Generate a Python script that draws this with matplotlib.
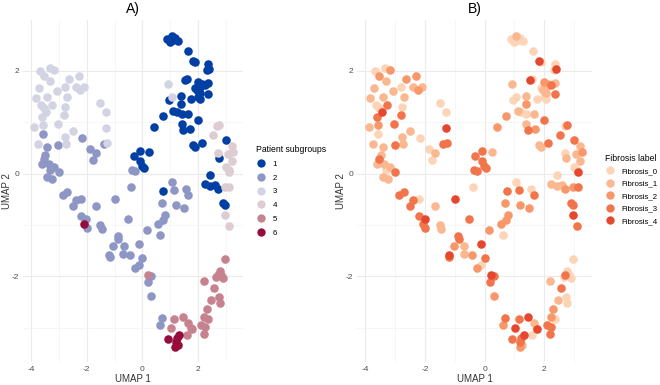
import numpy as np
import matplotlib
matplotlib.use("Agg")
import matplotlib.pyplot as plt
from matplotlib.lines import Line2D

plt.rcParams['font.family'] = ['Liberation Sans', 'DejaVu Sans']
plt.rcParams['axes.unicode_minus'] = False

# UMAP coordinates, patient subgroup (1-6) and fibrosis label (0-4) per patient
umap1 = [0.87, 1.05, 1.17, 0.99, 1.29, 1.11, 1.62, 1.82, 1.88, 2.35, 2.39, 2.33, 0.93, 1.52, 1.58,
         2.00, 2.12, 2.06, 2.24, 2.36, 1.88, 1.94, 2.06, 2.00, 2.36, 1.38, 1.05, 1.74, 0.96, 2.06,
         1.37, 1.11, 1.23, 1.40, 1.64, 0.73, 1.98, 1.40, 0.43, 1.46, 1.70, 2.69, 2.75, 2.54,
         -3.69, -3.54, -3.33, -3.18, -3.30, -3.71, -3.83, -3.42, -3.08, -2.79, -2.64, -2.70, -2.29,
         -2.40, -2.23, -2.11, -3.65, -3.54, -3.26, -3.45, -3.62, -2.76, -2.82, -3.04, -3.89, -3.57,
         -1.51, -1.30, -1.31, -2.76, -2.50, -3.57,
         -3.74, -2.73, -2.17, -1.27, -1.39, -3.42, -3.02, -1.87, -1.65, -1.77, -3.48, -3.54, -3.62,
         -3.36, -3.18, -3.30, -3.00, -3.42, -3.24, -0.32, -0.08, 0.25, -0.08, -0.02, 0.06, -0.36,
         -0.26, -0.40, 1.82, 1.88, 2.14, 2.98, 3.21, 3.25, 2.71, 3.07, 3.21, 3.01, 3.10, 3.12, 2.95,
         3.12, 2.74, 2.42, 2.24, 2.42, 2.60, 2.71, 2.89, 2.95, 2.95, 3.10, 0.75, 1.05, 1.14, 1.56,
         1.64, 0.69, 1.19, 1.50, 0.79, 0.73, 0.55, 0.63, 0.15, -0.12, -0.52, -1.00, -1.65, -2.70,
         -2.86, -2.40, -2.19, -2.49, -2.19, -2.01, -2.08, -1.99, -1.51, -1.45, -0.88, -0.86, -1.04,
         -0.68,
         -1.18, -1.21, -0.70, -0.44, 0.00, -0.26, -0.14, 0.21, 0.31, 0.19, 0.31, 0.69, 0.63, 1.14,
         1.46, 1.02, 1.64, 1.73, 1.76, 1.58, 0.93, 1.23, 1.31, 1.19, 1.26, 1.17, 2.95, 2.77, 2.83,
         2.65, 2.89, 2.71, 2.20, 2.57, 2.74, 2.77, 2.45, 2.30, 2.21, 2.36, 2.10, 2.24, 2.20]
umap2 = [2.63, 2.68, 2.64, 2.56, 2.58, 2.60, 2.39, 2.19, 2.18, 2.14, 2.03, 2.01, 1.75, 1.83, 1.85,
         1.79, 1.75, 1.69, 1.72, 1.77, 1.67, 1.62, 1.56, 1.49, 1.54, 1.51, 1.49, 1.45, 1.43, 1.45,
         1.35, 1.21, 1.19, 1.15, 1.16, 1.12, 1.04, 0.96, 0.91, 0.85, 0.86, 0.93, 0.94, 0.75,
         1.99, 1.90, 2.05, 2.01, 1.80, 1.67, 1.47, 1.49, 1.61, 1.69, 1.84, 1.49, 1.90,
         1.69, 1.62, 1.69, 1.33, 1.27, 1.33, 1.20, 1.10, 1.30, 1.14, 0.97, 0.91, 0.94,
         1.38, 1.20, 0.89, 0.71, 0.82, 0.76,
         0.58, 0.57, 0.69, 0.60, 0.58, 0.52, 0.55, 0.47, 0.40, 0.27, 0.36, 0.28, 0.19,
         0.18, 0.13, 0.06, 0.02, -0.06, -0.11, 0.34, 0.44, 0.41, 0.24, 0.15, 0.11, 0.06,
         0.05, -0.26, 0.55, 0.52, 0.60, 0.66, 0.54, 0.42, 0.39, 0.38, 0.24, 0.13, 0.06, 0.02, -0.26,
         -0.27, 0.31, -0.02, -0.21, -0.24, -0.23, -0.31, -0.58, -0.62, -0.81, -1.02, -0.34, -0.16, -0.32, -0.31,
         -0.41, -0.58, -0.62, -0.68, -0.81, -0.91, -0.99, -1.19, -1.10, -1.38, -0.89, -0.50, -0.63, -0.36,
         -0.41, -0.52, -0.50, -0.64, -0.82, -0.88, -0.99, -1.07, -1.00, -1.09, -1.22, -1.28, -1.42,
         -1.41,
         -1.62, -1.58, -1.56, -1.59, -1.64, -1.85, -1.79, -1.97, -1.99, -2.12, -2.39, -2.81, -2.95, -2.84,
         -2.79, -3.01, -2.91, -3.01, -3.02, -3.14, -3.23, -3.20, -3.15, -3.29, -3.34, -3.38, -1.66, -1.90, -1.97,
         -2.01, -2.03, -1.98, -2.10, -2.23, -2.40, -2.53, -2.47, -2.63, -2.79, -2.84, -2.95, -2.99, -3.12]
subgroup = [1, 1, 1, 1, 1, 1, 1, 1, 1, 1, 1, 1, 3, 1, 1,
            1, 1, 1, 1, 1, 1, 1, 1, 1, 1, 1, 3, 1, 1, 1,
            1, 1, 1, 1, 1, 1, 1, 1, 1, 1, 1, 4, 4, 4,
            3, 3, 3, 3, 3, 3, 3, 3, 3, 3, 3, 3, 3,
            3, 3, 3, 3, 3, 3, 3, 3, 3, 3, 3, 3, 3,
            3, 3, 3, 3, 3, 2,
            3, 3, 2, 3, 2, 2, 2, 2, 2, 2, 2, 2, 2,
            2, 2, 2, 2, 2, 2, 1, 1, 1, 1, 1, 1, 2,
            2, 2, 1, 1, 1, 1, 4, 4, 4, 4, 4, 4, 4, 4, 4,
            4, 1, 1, 1, 1, 1, 1, 1, 1, 4, 4, 1, 2, 2, 2,
            2, 2, 2, 2, 2, 2, 2, 2, 2, 2, 2, 2, 2, 2,
            2, 2, 2, 2, 2, 2, 6, 2, 2, 2, 2, 2, 2,
            2,
            2, 2, 2, 2, 2, 2, 2, 5, 2, 2, 2, 2, 2, 5,
            5, 5, 5, 5, 5, 5, 6, 6, 6, 6, 6, 6, 5, 5, 5,
            5, 5, 5, 5, 5, 5, 5, 5, 5, 5, 5, 5, 5, 5]
fibrosis = [0, 1, 0, 0, 0, 0, 0, 4, 0, 0, 4, 0, 1, 4, 0,
            2, 1, 1, 3, 1, 0, 1, 1, 0, 3, 1, 0, 0, 0, 0,
            2, 1, 0, 0, 1, 2, 3, 1, 2, 3, 2, 0, 3, 3,
            0, 2, 0, 2, 1, 1, 1, 1, 1, 0, 2, 1, 2,
            1, 2, 1, 0, 0, 3, 4, 3, 0, 3, 3, 1, 2,
            0, 0, 4, 1, 1, 0,
            1, 1, 0, 3, 3, 1, 3, 0, 1, 0, 1, 3, 1,
            1, 1, 0, 3, 1, 1, 3, 3, 1, 3, 3, 3, 3,
            3, 0, 1, 1, 3, 3, 1, 2, 0, 1, 1, 0, 0, 4, 2,
            3, 1, 0, 1, 1, 1, 2, 3, 3, 4, 3, 3, 0, 3, 0,
            3, 2, 2, 2, 2, 2, 2, 0, 2, 4, 3, 4, 1, 3,
            3, 3, 0, 3, 3, 4, 3, 3, 1, 1, 3, 3, 2,
            1,
            3, 4, 1, 2, 3, 2, 0, 4, 3, 3, 2, 3, 2, 3,
            4, 4, 1, 0, 4, 0, 3, 3, 4, 3, 1, 2, 0, 0, 0,
            0, 0, 3, 1, 3, 0, 0, 1, 2, 2, 0, 3, 3, 3]

subgroup_labels = ['1', '2', '3', '4', '5', '6']
fibrosis_labels = ['Fibrosis_0', 'Fibrosis_1', 'Fibrosis_2', 'Fibrosis_3', 'Fibrosis_4']

subgroup_colors = ['#023FA5', '#8E96C6', '#D3D4E3', '#DDCCD1', '#C7828F', '#960D3D']
fibrosis_colors = ['#FDD5B6', '#FBB78F', '#F8976A', '#F1744A', '#E6472F']

x = np.array(umap1)
y = np.array(umap2)
sg = np.array(subgroup)
fb = np.array(fibrosis)

fig = plt.figure(figsize=(6.6, 3.85), dpi=100)
axA = fig.add_axes([0.035, 0.060, 0.333, 0.888])
axB = fig.add_axes([0.541, 0.060, 0.356, 0.888])

tick_col = '#4D4D4D'


def style_axis(ax, title):
    ax.set_xlim(-4.28, 3.60)
    ax.set_ylim(-3.67, 2.99)
    ax.set_xticks([-4, -2, 0, 2])
    ax.set_yticks([-2, 0, 2])
    ax.set_xticks([-3, -1, 1, 3], minor=True)
    ax.set_yticks([-3, -1, 1], minor=True)
    ax.grid(True, which='major', color='#EBEBEB', lw=0.8)
    ax.grid(True, which='minor', color='#F3F3F3', lw=0.5)
    ax.set_axisbelow(True)
    for s in ax.spines.values():
        s.set_visible(False)
    ax.tick_params(which='both', length=0, labelsize=6, labelcolor=tick_col, pad=3)
    ax.set_xlabel('UMAP 1', fontsize=7, color='#333333', labelpad=1)
    ax.set_ylabel('UMAP 2', fontsize=7, color='#333333', labelpad=0)
    ax.set_title(title, fontsize=10, pad=5)


# A) patient subgroups
for g in range(1, 7):
    m = sg == g
    axA.scatter(x[m], y[m], s=38, color=subgroup_colors[g - 1], lw=0, zorder=2)
style_axis(axA, 'A)')

# B) fibrosis labels
for f in range(5):
    m = fb == f
    axB.scatter(x[m], y[m], s=38, color=fibrosis_colors[f], lw=0, zorder=2)
style_axis(axB, 'B)')

hA = [Line2D([], [], marker='o', ls='', ms=6, color=c, mew=0) for c in subgroup_colors]
legA = fig.legend(hA, subgroup_labels, title='Patient subgroups', loc='upper left',
                  bbox_to_anchor=(0.382, 0.633), frameon=False, fontsize=5.7,
                  title_fontsize=6.2, handlelength=1.2, handletextpad=0.9,
                  labelspacing=0.78, borderpad=0)
legA._legend_box.align = 'left'

hB = [Line2D([], [], marker='o', ls='', ms=6, color=c, mew=0) for c in fibrosis_colors]
legB = fig.legend(hB, fibrosis_labels, title='Fibrosis label', loc='upper left',
                  bbox_to_anchor=(0.911, 0.611), frameon=False, fontsize=5.7,
                  title_fontsize=6.2, handlelength=1.2, handletextpad=0.9,
                  labelspacing=0.62, borderpad=0)
legB._legend_box.align = 'left'

fig.savefig('out.png', dpi=100)
